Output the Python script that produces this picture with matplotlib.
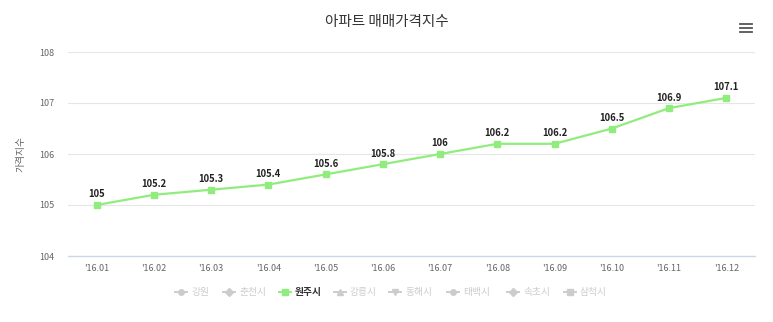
import matplotlib
matplotlib.use("Agg")
import matplotlib.pyplot as plt
from matplotlib.lines import Line2D

plt.rcParams['font.family'] = ['Noto Sans CJK KR', 'DejaVu Sans']

# Data
months = ["'16.01", "'16.02", "'16.03", "'16.04", "'16.05", "'16.06",
          "'16.07", "'16.08", "'16.09", "'16.10", "'16.11", "'16.12"]
wonju = [105, 105.2, 105.3, 105.4, 105.6, 105.8, 106, 106.2, 106.2, 106.5, 106.9, 107.1]
yticks = [104, 105, 106, 107, 108]
legend_names = ["강원", "춘천시", "원주시", "강릉시", "동해시", "태백시", "속초시", "삼척시"]
legend_markers = ["o", "D", "s", "^", "v", "o", "D", "s"]
active_series = "원주시"

title = "아파트 매매가격지수"
ylabel = "가격지수"

green = "#90ed7d"
fig = plt.figure(figsize=(7.73, 3.22), dpi=100)
ax = fig.add_axes([68 / 773, 66 / 322, 687 / 773, 204 / 322])

x = list(range(len(months)))
ax.plot(x, wonju, color=green, lw=1.6, marker="s", ms=5, mfc=green, mec=green, zorder=3)
for xi, v in zip(x, wonju):
    ax.annotate(f"{v:g}", (xi, v), xytext=(0, 4), textcoords="offset points",
                ha="center", va="bottom", fontsize=6.8, fontweight="bold", color="#222222")

ax.set_xlim(-0.5, len(months) - 0.5)
ax.set_ylim(104, 108)
ax.set_yticks(yticks)
ax.set_xticks(x)
ax.set_xticklabels(months)
ax.tick_params(axis="both", length=0, labelsize=6.5, colors="#666666")
ax.tick_params(axis="x", pad=6)
ax.tick_params(axis="y", pad=10)
ax.grid(axis="y", color="#e6e6e6", lw=0.8)
ax.set_axisbelow(True)
for side in ["top", "right", "left"]:
    ax.spines[side].set_visible(False)
ax.spines["bottom"].set_color("#ccd6eb")
ax.spines["bottom"].set_linewidth(1)

ax.set_ylabel(ylabel, fontsize=7, color="#666666", labelpad=10)
fig.text(387 / 773, 1 - 22 / 322, title, ha="center", va="center", fontsize=10.5, color="#333333")

# hamburger menu icon
for dy in (-4, 0, 4):
    fig.add_artist(Line2D([740 / 773, 752 / 773], [1 - (28 + dy) / 322] * 2,
                          color="#555555", lw=1.3, transform=fig.transFigure))

# legend
legend_x = [181, 229, 285, 340, 395, 453, 513, 570]
ly = 1 - 292 / 322
for name, mk, lx in zip(legend_names, legend_markers, legend_x):
    active = name == active_series
    c = green if active else "#cccccc"
    fig.add_artist(Line2D([(lx - 6) / 773, (lx + 6) / 773], [ly, ly], color=c, lw=1.4,
                          transform=fig.transFigure))
    fig.add_artist(Line2D([lx / 773], [ly], marker=mk, ms=4, color=c, mec=c,
                          transform=fig.transFigure))
    fig.text((lx + 10) / 773, ly, name, ha="left", va="center", fontsize=7,
             color="#333333" if active else "#cccccc",
             fontweight="bold" if active else "normal")

fig.savefig("out.png", dpi=100)
